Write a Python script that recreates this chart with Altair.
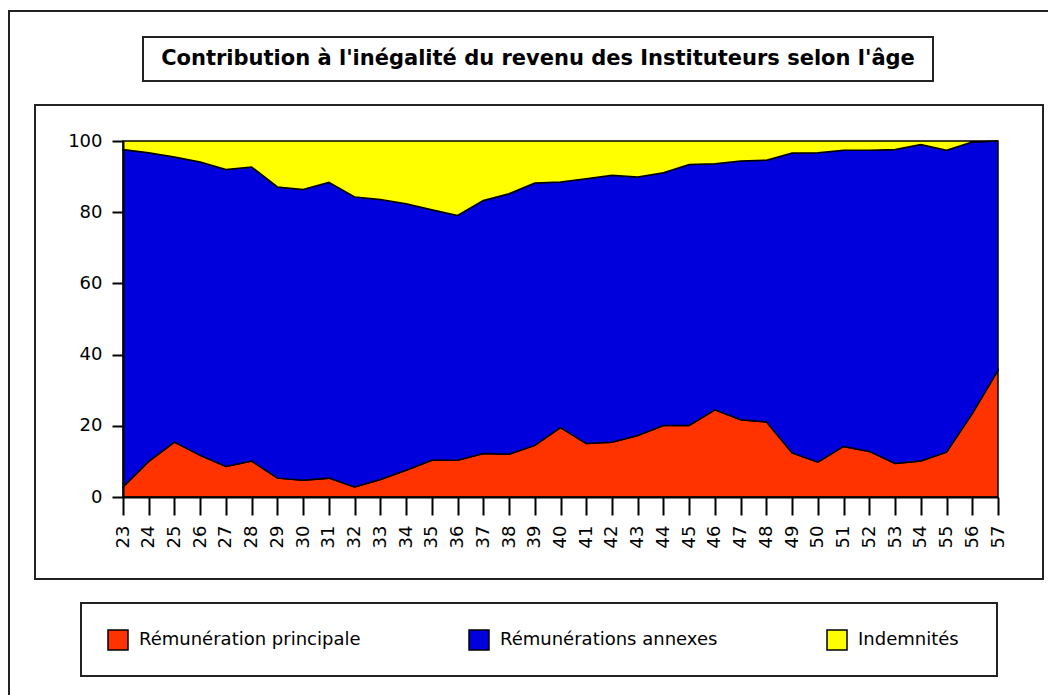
import altair as alt
import pandas as pd

ages = list(range(23, 58))
principale = [2.8, 10.0, 15.4, 11.7, 8.6, 10.1, 5.3, 4.7, 5.3, 2.8, 4.9, 7.5, 10.3, 10.3, 12.2, 12.0, 14.5,
              19.5, 15.0, 15.4, 17.3, 20.1, 20.1, 24.5, 21.7, 21.1, 12.4, 9.8, 14.2, 12.8, 9.4, 10.1, 12.6,
              23.4, 35.6]
annexes = [94.8, 86.7, 80.1, 82.4, 83.4, 82.6, 81.8, 81.7, 83.1, 81.5, 78.7, 74.9, 70.4, 68.8, 71.1, 73.2, 73.7,
           69.0, 74.4, 75.0, 72.6, 71.0, 73.3, 69.1, 72.7, 73.5, 84.2, 86.9, 83.2, 84.6, 88.2, 88.9, 84.8,
           76.3, 64.4]
indemnites = [2.4, 3.3, 4.5, 5.9, 8.0, 7.3, 12.9, 13.6, 11.6, 15.7, 16.4, 17.6, 19.3, 20.9, 16.7, 14.8, 11.8,
              11.5, 10.6, 9.6, 10.1, 8.9, 6.6, 6.4, 5.6, 5.4, 3.4, 3.3, 2.6, 2.6, 2.4, 1.0, 2.6,
              0.3, 0.0]
series = ["Rémunération principale", "Rémunérations annexes", "Indemnités"]
colors = ["#FF3300", "#0000DD", "#FFFF00"]
title_text = "Contribution à  l'inégalité du revenu des Instituteurs  selon l'âge"
y_ticks = [0, 20, 40, 60, 80, 100]

df = pd.DataFrame({"age": ages, "p": principale, "a": annexes, "i": indemnites})
one = pd.DataFrame({"k": [0]})

W, H = 875, 356
FONT = "DejaVu Sans"

def box(x1, x2, y1, y2, fill="white", sw=2):
    return alt.Chart(one).mark_rect(fill=fill, stroke="#222222", strokeWidth=sw,
                                    fillOpacity=(1 if fill != "none" else 0)).encode(
        x=alt.value(x1), x2=alt.value(x2), y=alt.value(y1), y2=alt.value(y2))

outer = box(-114, 940, -130, 565, fill="none")
panel = box(-88, 920, -36, 438)
title_box = box(20, 810, -104, -60)
legend_box = box(-42, 874, 462, 535)

title = alt.Chart(one).mark_text(font=FONT, fontWeight="bold", fontSize=21, color="black",
                                 align="center", baseline="middle").encode(
    x=alt.value(415), y=alt.value(-82), text=alt.value(title_text))

x_axis = alt.Axis(values=ages, format="d", labelAngle=270, title=None, grid=False,
                  tickSize=18, tickWidth=2, tickColor="black", domainColor="black",
                  domainWidth=2, labelFont=FONT, labelFontSize=18, labelColor="black",
                  labelPadding=10, zindex=1, labelOverlap=False)
y_axis = alt.Axis(values=y_ticks, title=None, grid=False, tickSize=11, tickWidth=2, tickColor="black",
                  domainColor="black", domainWidth=2, labelFont=FONT, labelFontSize=18,
                  labelColor="black", labelPadding=10, zindex=1)

def area_layer(idx, lo_expr, hi_expr, legend_x):
    name = series[idx]
    return alt.Chart(df).transform_calculate(
        lo=lo_expr, hi=hi_expr, s=f'"{name}"'
    ).mark_area(stroke="black", strokeWidth=1.5, interpolate="linear").encode(
        x=alt.X("age:Q", scale=alt.Scale(domain=[23, 57], nice=False, zero=False), axis=x_axis),
        y=alt.Y("hi:Q", scale=alt.Scale(domain=[0, 100], nice=False), axis=y_axis),
        y2="lo:Q",
        color=alt.Color("s:N", scale=alt.Scale(domain=[name], range=[colors[idx]]),
                        legend=alt.Legend(orient="none", legendX=legend_x, legendY=488, title=None,
                                          direction="horizontal", symbolType="square", symbolSize=400,
                                          symbolStrokeColor="black", symbolStrokeWidth=1.5,
                                          labelFont=FONT, labelFontSize=18, labelColor="black",
                                          labelOffset=10, padding=0, labelLimit=400)),
    )

red = area_layer(0, "0", "datum.p", -16)
blue = area_layer(1, "datum.p", "datum.p + datum.a", 345)
yellow = area_layer(2, "datum.p + datum.a", "datum.p + datum.a + datum.i", 703)

chart = alt.layer(outer, panel, title_box, legend_box, title, red, blue, yellow).resolve_scale(
    color="independent"
).properties(
    width=W, height=H,
    autosize=alt.AutoSizeParams(type="none"),
    padding={"left": 115, "top": 133, "right": 50, "bottom": 198},
).configure_view(stroke="#333333", strokeWidth=1.5).configure(background="white")

chart.save("out.html", embed_options={"renderer": "svg", "actions": False})
